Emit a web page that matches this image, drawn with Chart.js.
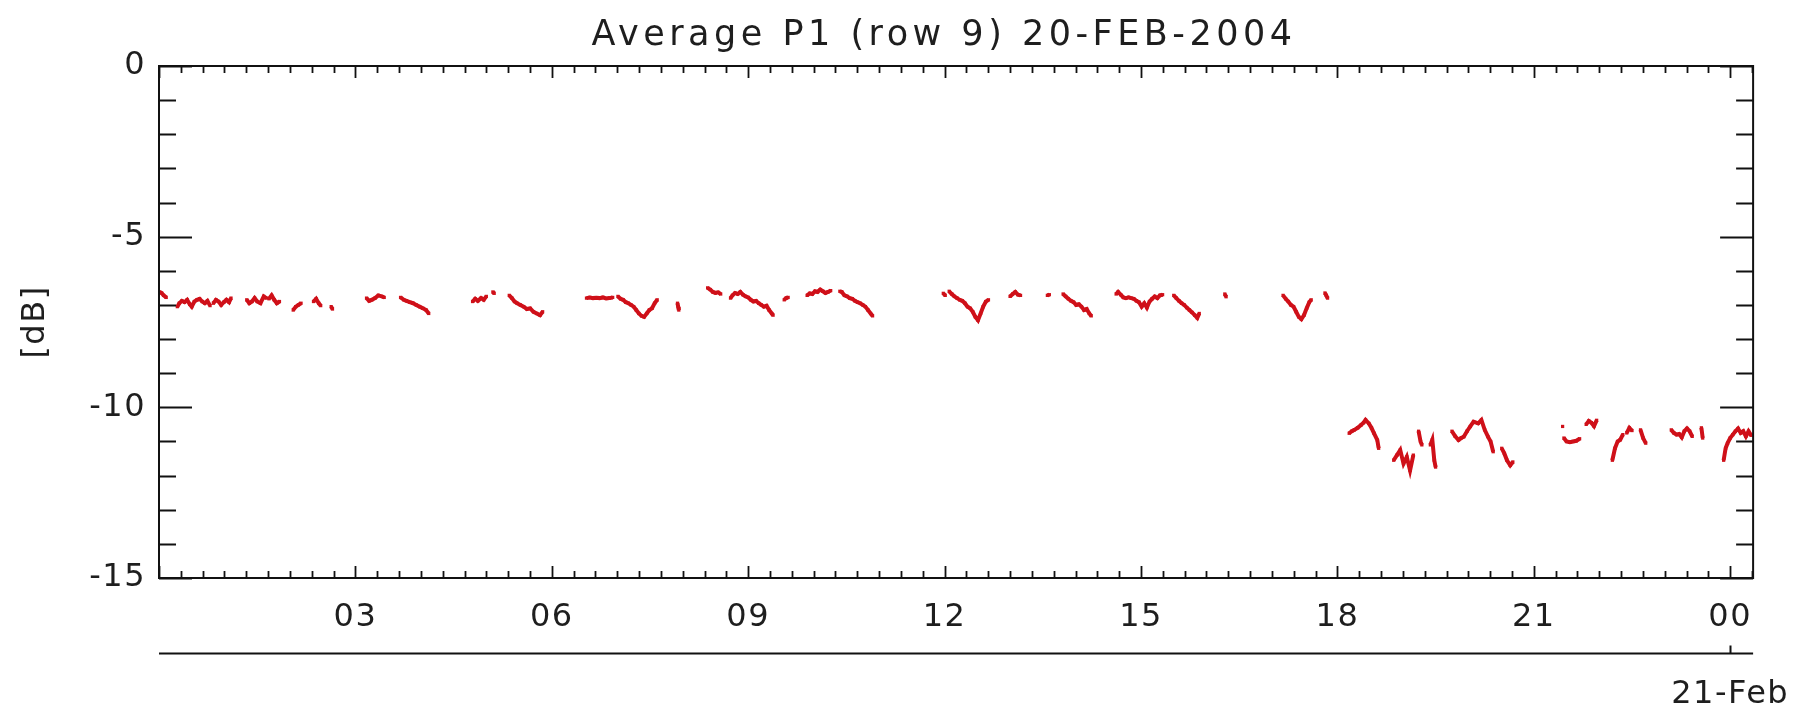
<!DOCTYPE html>
<html><head><meta charset="utf-8">
<script src="https://cdn.jsdelivr.net/npm/chart.js@4.4.1/dist/chart.umd.min.js"></script>
<style>html,body{margin:0;padding:0;background:#fff;}</style>
</head><body>
<canvas id="c" width="1812" height="720"></canvas>
<script>
const titleText = 'Average P1 (row 9) 20-FEB-2004';
const yAxisLabel = '[dB]';
const dateLabel = '21-Feb';
const dateTickHour = 24;
const xMin = 0, xMax = 24.35;
const yMin = -15, yMax = 0;
const xTickHours = [3, 6, 9, 12, 15, 18, 21, 24];
const xTickLabels = ['03', '06', '09', '12', '15', '18', '21', '00'];
const yTicks = [0, -5, -10, -15];

// time of day (hours) and level (dB); null in dB marks a data gap
const hours = [
 0.01,0.04,0.07,0.11, 0.2,
 0.28,0.31,0.35,0.39,0.43,0.47,0.50,0.54,0.58,0.62,0.66,0.70,0.74,0.78, 0.8,
 0.83,0.87,0.91,0.95,0.99,1.03,1.07,1.10, 1.2,
 1.34,1.38,1.42,1.46,1.50,1.55,1.60,1.64, 1.66,
 1.68,1.72,1.76,1.80,1.84, 1.95,
 2.05,2.09,2.13,2.17, 2.3,
 2.36,2.40,2.44,2.47, 2.55,
 2.63,2.65, 3.0,
 3.17,3.21,3.25,3.30,3.35,3.40,3.44, 3.6,
 3.69,3.74,3.78,3.83,3.88,3.93,3.98,4.03,4.08,4.12, 4.5,
 4.79,4.83,4.87,4.92,4.96,5.00, 5.05,
 5.10,5.12, 5.2,
 5.35,5.39,5.43,5.47,5.52,5.57,5.62,5.67,5.72,5.77,5.82,5.86, 6.2,
 6.53,6.58,6.63,6.68,6.73,6.78,6.83,6.88,6.93, 6.97,
 7.01,7.05,7.09,7.13,7.17,7.21,7.25,7.29,7.33,7.37,7.41,7.45,7.49,7.53,7.57,7.61, 7.8,
 7.92,7.93,7.94, 8.2,
 8.38,8.42,8.46,8.50,8.54,8.58, 8.65,
 8.73,8.76,8.80,8.84,8.88,8.92,8.96,9.00,9.04,9.08,9.12,9.16,9.20,9.24,9.28,9.32,9.36,9.38, 9.45,
 9.55,9.58,9.61, 9.8,
 9.90,9.94,9.98,10.02,10.06,10.10,10.14,10.18,10.22,10.26, 10.33,
 10.40,10.43,10.47,10.51,10.55,10.59,10.63,10.67,10.71,10.75,10.79,10.83,10.87,10.90, 11.5,
 11.98,12.01, 12.04,
 12.07,12.11,12.15,12.19,12.23,12.27,12.31,12.35,12.39,12.43,12.47,12.51,12.55,12.59,12.63,12.67, 12.8,
 13.00,13.04,13.08,13.12,13.16, 13.4,
 13.57,13.60, 13.7,
 13.81,13.85,13.89,13.93,13.97,14.01,14.05,14.09,14.13,14.17,14.21,14.24, 14.4,
 14.62,14.65,14.69,14.73,14.77,14.81,14.85,14.89,14.93,14.97,15.01,15.05,15.09,15.13,15.17,15.21,15.25,15.29,15.33, 15.42,
 15.50,15.54,15.58,15.62,15.66,15.70,15.74,15.78,15.82,15.86,15.89, 16.1,
 16.28,16.30, 16.8,
 17.17,17.21,17.25,17.29,17.33,17.37,17.41,17.45,17.49,17.53,17.57,17.60, 17.7,
 17.81,17.83,17.85, 18.0,
 18.18,18.22,18.26,18.31,18.36,18.40,18.43,18.48,18.52,18.56,18.61,18.63, 18.75,
 18.86,18.91,18.96,19.01,19.06,19.11,19.16, 19.2,
 19.24,19.27,19.29, 19.36,
 19.42,19.45,19.48,19.50, 19.6,
 19.75,19.80,19.85,19.89,19.93,19.98,20.03,20.08,20.15,20.20,20.25,20.30,20.34,20.38, 20.45,
 20.51,20.55,20.59,20.64,20.68, 21.0,
 21.44, 21.45,
 21.46,21.50,21.55,21.60,21.65,21.70, 21.75,
 21.80,21.84,21.88,21.92,21.96, 22.1,
 22.20,22.24,22.28,22.32,22.36, 22.39,
 22.42,22.46,22.50, 22.56,
 22.63,22.67,22.71, 22.9,
 23.10,23.14,23.18,23.22,23.26,23.30,23.34,23.38,23.42, 23.5,
 23.56,23.58, 23.75,
 23.90,23.93,23.96,24.00,24.04,24.08,24.12,24.16,24.20,24.24,24.28,24.32
];
const dB = [
 -6.62,-6.65,-6.72,-6.78, null,
 -7.05,-6.95,-6.88,-6.92,-6.85,-6.98,-7.05,-6.90,-6.85,-6.82,-6.90,-6.95,-6.88,-7.02, null,
 -6.95,-6.85,-6.90,-7.00,-6.92,-6.85,-6.92,-6.80, null,
 -6.85,-6.95,-6.90,-6.80,-6.90,-6.95,-6.75,-6.80, null,
 -6.82,-6.72,-6.85,-6.95,-6.90, null,
 -7.15,-7.05,-7.00,-6.95, null,
 -6.90,-6.82,-6.95,-7.02, null,
 -7.05,-7.12, null,
 -6.80,-6.88,-6.85,-6.80,-6.72,-6.75,-6.78, null,
 -6.78,-6.85,-6.88,-6.92,-6.95,-7.00,-7.05,-7.10,-7.15,-7.25, null,
 -6.90,-6.82,-6.88,-6.80,-6.85,-6.75, null,
 -6.62,-6.66, null,
 -6.72,-6.80,-6.90,-6.95,-7.00,-7.05,-7.12,-7.10,-7.20,-7.25,-7.30,-7.20, null,
 -6.80,-6.78,-6.80,-6.79,-6.80,-6.78,-6.81,-6.80,-6.78, null,
 -6.75,-6.82,-6.85,-6.92,-6.95,-7.00,-7.05,-7.15,-7.25,-7.32,-7.35,-7.25,-7.15,-7.10,-6.95,-6.85, null,
 -6.95,-7.05,-7.15, null,
 -6.50,-6.55,-6.62,-6.65,-6.63,-6.68, null,
 -6.80,-6.72,-6.65,-6.68,-6.62,-6.70,-6.75,-6.78,-6.85,-6.90,-6.88,-6.95,-7.00,-7.05,-7.02,-7.15,-7.25,-7.30, null,
 -6.85,-6.80,-6.78, null,
 -6.72,-6.66,-6.68,-6.60,-6.62,-6.55,-6.60,-6.65,-6.62,-6.58, null,
 -6.60,-6.62,-6.72,-6.75,-6.80,-6.82,-6.88,-6.92,-6.95,-7.00,-7.05,-7.15,-7.25,-7.32, null,
 -6.66,-6.72, null,
 -6.60,-6.68,-6.75,-6.80,-6.85,-6.88,-6.95,-7.05,-7.10,-7.20,-7.35,-7.45,-7.25,-7.05,-6.90,-6.85, null,
 -6.75,-6.68,-6.62,-6.70,-6.72, null,
 -6.72,-6.70, null,
 -6.68,-6.75,-6.82,-6.88,-6.92,-7.00,-6.98,-7.05,-7.15,-7.12,-7.25,-7.32, null,
 -6.68,-6.62,-6.70,-6.78,-6.80,-6.78,-6.80,-6.82,-6.88,-6.92,-7.05,-6.95,-7.08,-6.90,-6.82,-6.75,-6.80,-6.72,-6.70, null,
 -6.72,-6.80,-6.88,-6.95,-7.00,-7.08,-7.15,-7.22,-7.30,-7.38,-7.25, null,
 -6.68,-6.76, null,
 -6.72,-6.82,-6.90,-7.00,-7.05,-7.20,-7.35,-7.42,-7.30,-7.10,-6.92,-6.85, null,
 -6.65,-6.72,-6.80, null,
 -10.76,-10.70,-10.66,-10.60,-10.52,-10.45,-10.37,-10.47,-10.60,-10.76,-10.96,-11.20, null,
 -11.55,-11.40,-11.25,-11.65,-11.45,-11.85,-11.40, null,
 -10.70,-11.00,-11.10, null,
 -11.10,-10.95,-11.55,-11.75, null,
 -10.70,-10.85,-10.96,-10.90,-10.86,-10.70,-10.56,-10.42,-10.47,-10.37,-10.66,-10.86,-11.00,-11.30, null,
 -11.20,-11.35,-11.55,-11.70,-11.60, null,
 -10.56, null,
 -10.90,-11.00,-11.02,-11.00,-10.98,-10.92, null,
 -10.50,-10.40,-10.45,-10.55,-10.38, null,
 -11.55,-11.20,-11.00,-10.95,-10.80, null,
 -10.75,-10.60,-10.68, null,
 -10.66,-10.90,-11.05, null,
 -10.66,-10.75,-10.80,-10.78,-10.88,-10.70,-10.62,-10.70,-10.85, null,
 -10.60,-10.90, null,
 -11.55,-11.20,-11.05,-10.90,-10.80,-10.70,-10.62,-10.75,-10.70,-10.85,-10.70,-10.82
];

const fontFamily = '"DejaVu Sans", sans-serif';
const textColor = '#1e1e1e';
const axisColor = '#111';
const red = '#cf1019';

const points = hours.map((h, i) => ({ x: h, y: dB[i] }));

const textSpacing = {
  id: 'textSpacing',
  beforeLayout(chart) { chart.ctx.letterSpacing = '1.5px'; },
  beforeDraw(chart) { chart.ctx.letterSpacing = '1.5px'; }
};

const idlFrame = {
  id: 'idlFrame',
  afterDraw(chart) {
    const { ctx, chartArea: a } = chart;
    const x = chart.scales.x, y = chart.scales.y, x2 = chart.scales.x2;
    ctx.save();
    ctx.strokeStyle = axisColor;
    ctx.lineWidth = 2;
    ctx.strokeRect(a.left, a.top, a.right - a.left, a.bottom - a.top);
    ctx.lineWidth = 1.8;
    ctx.beginPath();
    for (let m = 0; m / 3 <= xMax; m++) {
      const px = Math.round(x.getPixelForValue(m / 3)) + 0.5;
      const len = (m % 9 === 0) ? 12 : 7;
      ctx.moveTo(px, a.bottom); ctx.lineTo(px, a.bottom - len);
      ctx.moveTo(px, a.top); ctx.lineTo(px, a.top + len);
    }
    for (let v = yMin; v <= yMax; v++) {
      const py = Math.round(y.getPixelForValue(v)) + 0.5;
      const len = (v % 5 === 0) ? 33 : 17;
      ctx.moveTo(a.left, py); ctx.lineTo(a.left + len, py);
      ctx.moveTo(a.right, py); ctx.lineTo(a.right - len, py);
    }
    ctx.stroke();
    // date axis below
    const ly = Math.round(x2.top) + 0.5;
    ctx.lineWidth = 2;
    ctx.beginPath();
    ctx.moveTo(a.left, ly); ctx.lineTo(a.right, ly);
    const dp = Math.round(x2.getPixelForValue(dateTickHour)) + 0.5;
    ctx.moveTo(dp, ly); ctx.lineTo(dp, ly - 8);
    ctx.stroke();
    // title
    ctx.fillStyle = textColor;
    ctx.font = '35px ' + fontFamily;
    ctx.letterSpacing = '4.5px';
    ctx.textAlign = 'center';
    ctx.textBaseline = 'middle';
    ctx.fillText(titleText, (a.left + a.right) / 2 - 12, 36);
    ctx.restore();
  }
};

new Chart(document.getElementById('c').getContext('2d'), {
  type: 'scatter',
  data: {
    datasets: [{
      data: points,
      showLine: true,
      spanGaps: false,
      borderColor: red,
      backgroundColor: red,
      borderWidth: 4,
      pointRadius: 2.3,
      pointStyle: 'rect',
      pointBorderWidth: 0
    }]
  },
  options: {
    responsive: false,
    animation: false,
    devicePixelRatio: 1,
    layout: { padding: { top: 66, right: 47, left: 0, bottom: 0 } },
    plugins: { legend: { display: false }, tooltip: { enabled: false }, title: { display: false } },
    scales: {
      x: {
        type: 'linear', position: 'bottom', min: xMin, max: xMax, weight: 1,
        grid: { display: false, drawTicks: false }, border: { display: false },
        afterBuildTicks: s => { s.ticks = xTickHours.map(v => ({ value: v })); },
        afterFit: s => { s.height = 75; },
        ticks: {
          autoSkip: false, maxRotation: 0, minRotation: 0, padding: 20,
          font: { family: fontFamily, size: 32 }, color: textColor,
          callback: (v, i) => xTickLabels[i]
        }
      },
      x2: {
        type: 'linear', position: 'bottom', min: xMin, max: xMax, weight: 2,
        grid: { display: false, drawTicks: false }, border: { display: false },
        afterBuildTicks: s => { s.ticks = [{ value: dateTickHour }]; },
        afterFit: s => { s.height = 67; },
        ticks: {
          autoSkip: false, maxRotation: 0, minRotation: 0, padding: 22,
          font: { family: fontFamily, size: 32 }, color: textColor,
          callback: () => dateLabel
        }
      },
      y: {
        type: 'linear', position: 'left', min: yMin, max: yMax,
        grid: { display: false, drawTicks: false }, border: { display: false },
        afterBuildTicks: s => { s.ticks = yTicks.map(v => ({ value: v })); },
        afterFit: s => { s.width = 159; },
        ticks: {
          padding: 13, font: { family: fontFamily, size: 32 }, color: textColor
        },
        title: {
          display: true, text: yAxisLabel, color: textColor,
          font: { family: fontFamily, size: 32 }, padding: { top: 16, bottom: 0 }
        }
      }
    }
  },
  plugins: [textSpacing, idlFrame]
});
</script>
</body></html>
